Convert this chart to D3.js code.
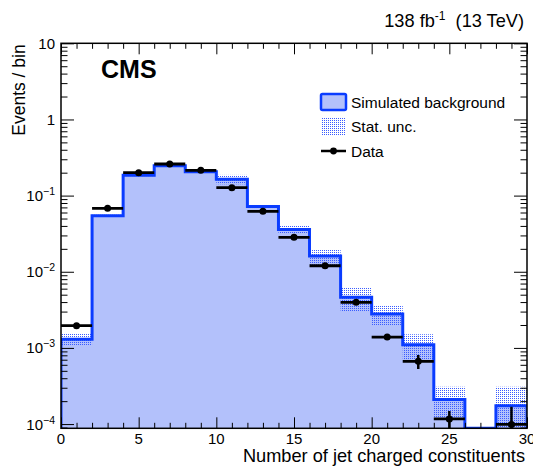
<!DOCTYPE html>
<html>
<head>
<meta charset="utf-8">
<script src="https://cdn.jsdelivr.net/npm/d3@7/dist/d3.min.js"></script>
<style>
  html, body { margin: 0; padding: 0; background: #fff; }
  svg { display: block; font-family: "Liberation Sans", Arial, Helvetica, sans-serif; }
</style>
</head>
<body>
<svg id="chart" width="533" height="466"></svg>
<script>
// ---- Data ----
const binEdges = [0, 2, 4, 6, 8, 10, 12, 14, 16, 18, 20, 22, 24, 26, 28, 30];
const bgValues = [1.30e-3, 0.0544, 0.185, 0.247, 0.206, 0.164, 0.0720, 0.0360, 0.0161, 0.00461, 0.00279, 0.00110, 2.11e-4, 0, 1.74e-4];
const bgStatErr = [2.3e-4, 0.0017, 0.005, 0.006, 0.006, 0.023, 0.0033, 0.0046, 0.0038, 0.00163, 8.0e-4, 4.1e-4, 9.8e-5, 0, 1.35e-4];
const dataValues = [1.96e-3, 0.068, 0.200, 0.260, 0.215, 0.127, 0.0622, 0.0283, 0.0120, 0.00397, 0.00139, 6.67e-4, 1.17e-4, null, 9.9e-5];
const dataErr = [1.5e-4, 0.002, 0.004, 0.004, 0.004, 0.003, 0.002, 0.0015, 0.0008, 0.0003, 1.0e-4, 1.4e-4, 3.1e-5, null, 7.0e-5];
const xMajorTicks = [0, 5, 10, 15, 20, 25, 30];
const yDecades = [1e-4, 1e-3, 1e-2, 1e-1, 1, 10];
const yTickLabels = [["10", "\u22124"], ["10", "\u22123"], ["10", "\u22122"], ["10", "\u22121"], ["1", null], ["10", null]];
const legendLabels = ["Simulated background", "Stat. unc.", "Data"];
const xTitle = "Number of jet charged constituents";
const yTitle = "Events / bin";

// ---- Layout ----
const L = 61, R = 527, T = 43.3, B = 428.3;
const yMin = 8.8e-5, yMax = 10;
const x = d3.scaleLinear().domain([0, 30]).range([L, R]);
const y = d3.scaleLog().domain([yMin, yMax]).range([B, T]);
const yc = v => (v == null || v <= yMin) ? B : Math.max(T, y(v));

const fillColor = "#b3c1fb";
const lineColor = "#0a3cff";

const svg = d3.select("#chart");
const defs = svg.append("defs");
const pat = defs.append("pattern").attr("id", "dots")
  .attr("patternUnits", "userSpaceOnUse").attr("width", 2).attr("height", 2);
pat.append("rect").attr("x", 0).attr("y", 0).attr("width", 1).attr("height", 1).attr("fill", "#3a5cff");
defs.append("clipPath").attr("id", "frameClip")
  .append("rect").attr("x", L).attr("y", T).attr("width", R - L).attr("height", B - T);

const bins = bgValues.map((v, i) => ({
  x0: binEdges[i], x1: binEdges[i + 1], v, err: bgStatErr[i],
  d: dataValues[i], de: dataErr[i]
}));

const plot = svg.append("g").attr("clip-path", "url(#frameClip)");

// histogram outline points
const pts = [[x(binEdges[0]), B]];
bins.forEach(b => { pts.push([x(b.x0), yc(b.v)]); pts.push([x(b.x1), yc(b.v)]); });
pts.push([x(binEdges[binEdges.length - 1]), B]);

// histogram fill (single path, no seams)
plot.append("path").attr("d", d3.line()(pts) + "Z").attr("fill", fillColor).attr("stroke", "none");

// stat band
plot.selectAll("rect.band").data(bins.filter(b => b.v > 0)).enter().append("rect")
  .attr("class", "band")
  .attr("x", b => x(b.x0)).attr("width", b => x(b.x1) - x(b.x0))
  .attr("y", b => yc(b.v + b.err)).attr("height", b => yc(b.v - b.err) - yc(b.v + b.err))
  .attr("fill", "url(#dots)");

// histogram outline
plot.append("path").attr("d", d3.line()(pts))
  .attr("fill", "none").attr("stroke", lineColor).attr("stroke-width", 3);

// data
const dg = plot.append("g");
bins.filter(b => b.d != null).forEach(b => {
  const cx = x((b.x0 + b.x1) / 2), cy = yc(b.d);
  dg.append("line").attr("x1", x(b.x0)).attr("x2", x(b.x1)).attr("y1", cy).attr("y2", cy)
    .attr("stroke", "#000").attr("stroke-width", 2.8);
  dg.append("line").attr("x1", cx).attr("x2", cx)
    .attr("y1", yc(b.d + b.de)).attr("y2", yc(b.d - b.de))
    .attr("stroke", "#000").attr("stroke-width", 2.5);
  dg.append("circle").attr("cx", cx).attr("cy", cy).attr("r", 3.5).attr("fill", "#000");
});

// ---- Axes (ticks inside, ROOT style) ----
const xMinor = d3.range(0, 31, 1).filter(v => v % 5 !== 0);
const yMinor = [];
for (let e = -5; e <= 0; e++) for (let k = 2; k <= 9; k++) {
  const v = k * Math.pow(10, e);
  if (v > yMin && v < yMax) yMinor.push(v);
}
function styleAxis(g) {
  g.select(".domain").remove();
  g.selectAll(".tick line").attr("stroke", "#000").attr("stroke-width", 1);
  g.selectAll(".tick text").remove();
}
svg.append("g").attr("transform", `translate(0,${B})`)
  .call(d3.axisBottom(x).tickValues(xMajorTicks).tickSize(-11).tickFormat("")).call(styleAxis);
svg.append("g").attr("transform", `translate(0,${B})`)
  .call(d3.axisBottom(x).tickValues(xMinor).tickSize(-5.5).tickFormat("")).call(styleAxis);
svg.append("g").attr("transform", `translate(0,${T})`)
  .call(d3.axisTop(x).tickValues(xMajorTicks).tickSize(-11).tickFormat("")).call(styleAxis);
svg.append("g").attr("transform", `translate(0,${T})`)
  .call(d3.axisTop(x).tickValues(xMinor).tickSize(-5.5).tickFormat("")).call(styleAxis);
svg.append("g").attr("transform", `translate(${L},0)`)
  .call(d3.axisLeft(y).tickValues(yDecades).tickSize(-13).tickFormat("")).call(styleAxis);
svg.append("g").attr("transform", `translate(${L},0)`)
  .call(d3.axisLeft(y).tickValues(yMinor).tickSize(-6.5).tickFormat("")).call(styleAxis);
svg.append("g").attr("transform", `translate(${R},0)`)
  .call(d3.axisRight(y).tickValues(yDecades).tickSize(-13).tickFormat("")).call(styleAxis);
svg.append("g").attr("transform", `translate(${R},0)`)
  .call(d3.axisRight(y).tickValues(yMinor).tickSize(-6.5).tickFormat("")).call(styleAxis);

// frame
svg.append("rect").attr("x", L).attr("y", T).attr("width", R - L).attr("height", B - T)
  .attr("fill", "none").attr("stroke", "#000").attr("stroke-width", 1.5);

// x tick labels
svg.append("g").selectAll("text").data(xMajorTicks).enter().append("text")
  .attr("x", d => x(d)).attr("y", 444).attr("text-anchor", "middle")
  .attr("font-size", 15).text(d => d);

// y tick labels
const yl = svg.append("g").selectAll("text").data(yDecades).enter().append("text")
  .attr("x", 55).attr("y", d => y(d) + 5.5).attr("text-anchor", "end").attr("font-size", 15);
yl.each(function(d, i) {
  const t = d3.select(this);
  const lab = yTickLabels[i];
  t.append("tspan").text(lab[0]);
  if (lab[1]) t.append("tspan").attr("dy", -6).attr("font-size", 10.5).text(lab[1]);
});

// titles
svg.append("text").attr("x", 525).attr("y", 462).attr("text-anchor", "end")
  .attr("font-size", 18.2).text(xTitle);
svg.append("text").attr("transform", `translate(25,${T + 1}) rotate(-90)`)
  .attr("text-anchor", "end").attr("font-size", 17.5).text(yTitle);

const lumi = svg.append("text").attr("x", 524).attr("y", 27).attr("text-anchor", "end").attr("font-size", 18.2);
lumi.append("tspan").text("138 fb");
lumi.append("tspan").attr("dy", -7).attr("font-size", 12).text("-1");
lumi.append("tspan").attr("dy", 7).text("\u00a0 (13 TeV)");

svg.append("text").attr("x", 101).attr("y", 78).attr("font-size", 25).attr("font-weight", "bold")
  .text("CMS");

// legend
const lg = svg.append("g");
const lx = 321, lw = 25;
const rows = [102, 126.5, 151];
lg.append("rect").attr("x", lx).attr("y", rows[0] - 8).attr("width", lw).attr("height", 16)
  .attr("rx", 1.5).attr("fill", fillColor).attr("stroke", lineColor).attr("stroke-width", 2.5);
lg.append("rect").attr("x", lx).attr("y", rows[1] - 8.5).attr("width", lw).attr("height", 17)
  .attr("fill", "url(#dots)");
lg.append("line").attr("x1", lx).attr("x2", lx + lw).attr("y1", rows[2]).attr("y2", rows[2])
  .attr("stroke", "#000").attr("stroke-width", 2.5);
lg.append("circle").attr("cx", lx + lw / 2).attr("cy", rows[2]).attr("r", 3.4).attr("fill", "#000");
lg.selectAll("text").data(legendLabels).enter().append("text")
  .attr("x", 351).attr("y", (d, i) => rows[i] + 5.5).attr("font-size", 15.5).text(d => d);
</script>
</body>
</html>
